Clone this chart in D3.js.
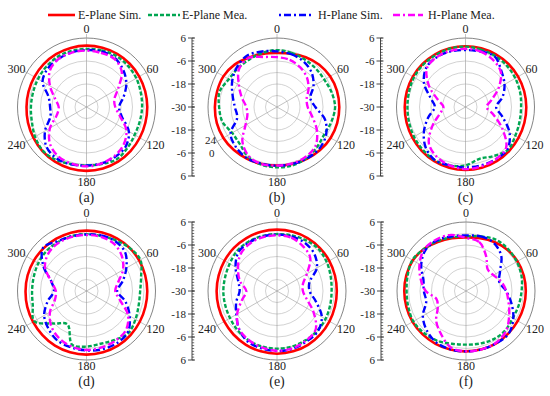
<!DOCTYPE html>
<html>
<head>
<meta charset="utf-8">
<script src="https://cdn.jsdelivr.net/npm/d3@7"></script>
<style>
  body { margin:0; background:#fff; }
</style>
</head>
<body>
<script>
// angles (deg, clockwise from top) shared by every series
var angles = [0,15,30,45,60,75,90,105,120,135,150,165,180,195,210,225,240,255,270,285,300,315,330,345];
var angleLabels = ["0","60","120","180","240","300"];
var radialTicks = [6,-6,-18,-30];
var gridLevels = [-24,-18,-12,-6,0];
var seriesNames = ["E-Plane Sim.","E-Plane Mea.","H-Plane Sim.","H-Plane Mea."];
var panelNames = ["(a)","(b)","(c)","(d)","(e)","(f)"];

// gain in dB, one value per angle
var eSimA = [2,2,2,1.9,1.8,1.7,1.7,1.8,2.1,2.5,2.9,3.2,3.3,3.2,2.9,2.5,2,1.6,1.3,1.3,1.4,1.6,1.8,1.9];
var eMeaA = [0.3,0.6,0.8,0.5,0,-0.7,-1,-1.2,-1,0.2,1.5,0.8,0.5,0.8,1.8,2.2,1,-0.5,-1,-1.1,-0.8,-0.3,0.2,0.3];
var hSimA = [-0.3,0,-0.5,-2.8,-6,-10,-13,-11,-4.5,-1,0,0.5,0.5,1,1,-0.5,-5,-10.5,-11,-9.5,-3.5,-1.5,-1,-0.5];
var hMeaA = [-0.6,-0.8,-1,-4,-11,-15,-15,-12,-6,-2.5,-0.6,0.5,1,0.5,-0.4,-3,-8,-14,-15.5,-13,-8,-3,-1,-0.6];

var eSimB = [-1.8,-1.2,0,1.2,2,2.4,2.5,2.5,2.3,1.8,1.2,0.8,0.6,0.8,1.2,1.8,2.3,2.5,2.4,2.3,2.2,1.3,-0.3,-1.3];
var eMeaB = [-0.3,-0.8,-1.3,-1.5,-1.5,-0.5,0.3,-0.6,-1.5,-0.5,0.8,1.5,1.5,1.2,0,-2.6,-3,-0.5,0.2,1,-1,-1.3,-1.3,-0.8];
var hSimB = [-1,-1.5,-2.5,-4.5,-8,-12,-10,-4,-0.5,1,1,0.8,0.6,0.6,1,0,-2,-8.5,-8,-6,-3,-0.5,1,0];
var hMeaB = [-4,-4.5,-6,-8,-11,-14,-14,-11,-6,-1.5,0,0.5,0.6,0.8,-0.5,-4.5,-11,-14,-14,-11,-7,-2,-0.5,-3];

var eSimC = [1.7,1.7,1.7,1.7,1.7,1.7,1.7,1.8,2,2.3,2.6,2.8,2.9,2.8,2.6,2.3,2,1.8,1.7,1.7,1.7,1.7,1.7,1.7];
var eMeaC = [1.5,1,0.8,0.5,0,-0.5,-1,-0.8,0,1.5,-0.5,-2,0.5,1.5,2,1.5,1,0.5,0.3,0.5,1,1.2,1.2,1.5];
var hSimC = [-0.3,0,0.5,-3.5,-6.5,-10,-14,-10,-3.5,1,1.5,1.5,1.5,1.5,2,-0.5,-5,-10,-14,-11,-5,-1,0,0];
var hMeaC = [0.3,0,-1.5,-4,-10,-16,-19,-15,-8,0,1.5,2,2.4,1.5,0,-3,-10,-16,-18.5,-15,-8,-1.5,0,0.3];

var eSimD = [1.5,1.6,1.7,1.8,1.8,1.7,1.7,1.8,2.1,2.5,2.9,3.1,3.2,3.1,2.9,2.5,2.2,2,1.8,1.8,1.7,1.6,1.5,1.5];
var eMeaD = [-0.3,-0.3,0.5,1.8,2.5,-0.5,-2,-1.8,-0.5,1,-0.5,-1.5,-1,-1,-10,-6,1.5,-1,-1.6,-1.5,-1,-0.5,-0.5,-0.3];
var hSimD = [-0.5,0,0,-1.5,-6,-10.5,-14,-9,-4,0.5,1.5,1.5,1,0.5,0,-2,-4.5,-9,-13,-11,-4,2,0,-0.5];
var hMeaD = [-0.8,-0.8,-1.5,-4,-8,-13,-15,-12,-5,-1,0,0.5,0.8,0,-1.5,-4,-8,-13,-14,-11,-5,-2,-1,-0.8];

var eSimE = [2,2,1.9,1.7,1.5,1.3,1.2,1.3,1.6,2,2.4,2.6,2.7,2.6,2.4,2.1,1.8,1.6,1.5,1.5,1.6,1.8,1.9,2];
var eMeaE = [-0.3,0,0.5,0.8,0,-1,-1.5,-1.3,-0.8,-0.5,-0.3,0,0.1,0,-0.3,-1,-1.7,-2,-2,-2,-1.5,-0.5,-0.3,-0.3];
var hSimE = [-0.6,-0.5,-1,-2.5,-6,-12.5,-13,-9,-3,0,0.5,1.2,1.3,1,0.5,-2,-5.5,-8,-10.5,-9,-5,-1.5,-0.8,-0.6];
var hMeaE = [-1,-1.2,-3,-5.5,-12,-16,-16.5,-14,-8,-1.5,0,1,1.2,0.5,-0.5,-2,-6,-11,-14,-10,-6.5,-3,-1.5,-1];

var eSimF = [-2,-1.5,-0.5,0.5,1,1.2,1.2,1.2,1.2,1.3,1.5,1.5,1.5,1.6,1.8,2,2.2,2.2,2.2,2.2,2,1,-0.5,-1.5];
var eMeaF = [-1.5,-0.5,1,1,0.6,0,-1,-1.5,-1.8,-1,-1,-1.6,-2,-1.5,0,1,1.7,1.2,1,1.5,2.3,1,0,-1];
var hSimF = [-1,-0.5,-1,-4,-9.5,-12,-9,-5.5,-1.5,1.5,1.5,1.5,1.5,1.5,1,-1,-4,-8.5,-8,-7,-3,0,0.5,-0.5];
var hMeaF = [-2.3,-3.5,-9,-14,-13.5,-11,-9,-7,-4,-0.5,1.2,1.5,1.5,0.5,-4,-8,-13,-14,-9,-5.5,-2,0.8,1,0.3];

var W = 550, H = 396;
var R = 69; // outer ring radius in px (6 dB)
var FONT = "'Liberation Serif','DejaVu Serif','Times New Roman',serif";
var colors = ["#ff0000","#00a651","#0000ff","#ff00ff"];
var dashes = [null,"4,2","7,3,2,3","7,3,7,3,2,3"];

var svg = d3.select("body").append("svg").attr("width",W).attr("height",H)
            .style("font-family",FONT);

var r = d3.scaleLinear().domain([-30,6]).range([0,R]);

var panels = [
  {cx:86.5, cy:107, axis:false, data:[eSimA,eMeaA,hSimA,hMeaA]},
  {cx:277,  cy:107, axis:true,  data:[eSimB,eMeaB,hSimB,hMeaB], split240:true},
  {cx:465.5,cy:107, axis:true,  data:[eSimC,eMeaC,hSimC,hMeaC]},
  {cx:86.5, cy:291, axis:false, data:[eSimD,eMeaD,hSimD,hMeaD]},
  {cx:277,  cy:291, axis:true,  data:[eSimE,eMeaE,hSimE,hMeaE]},
  {cx:466,  cy:291, axis:true,  data:[eSimF,eMeaF,hSimF,hMeaF]}
];

var line = d3.lineRadial()
  .angle(function(d){ return d.a*Math.PI/180; })
  .radius(function(d){ return r(d.v); })
  .curve(d3.curveCatmullRomClosed.alpha(0.5));

function label(sel,x,y,anchor,size,txt){
  return sel.append("text").attr("x",x).attr("y",y).attr("text-anchor",anchor)
    .style("font-family",FONT).style("font-size",size+"px").style("fill","#222").text(txt);
}

panels.forEach(function(p,i){
  var g = svg.append("g").attr("transform","translate("+p.cx+","+p.cy+")");

  // grid rings
  g.selectAll("circle.grid").data(gridLevels).enter().append("circle")
   .attr("r",function(d){ return r(d); })
   .attr("fill","none").attr("stroke","#b4b4b4").attr("stroke-width",0.6);
  g.append("circle").attr("r",R).attr("fill","none").attr("stroke","#777").attr("stroke-width",0.9);

  // spokes every 60 deg, with a short tick outside the ring
  [0,60,120,180,240,300].forEach(function(a){
    var t = a*Math.PI/180;
    g.append("line").attr("x1",0).attr("y1",0)
     .attr("x2",(R+4)*Math.sin(t)).attr("y2",-(R+4)*Math.cos(t))
     .attr("stroke","#999").attr("stroke-width",0.6);
  });

  // angle labels
  var pos = {"0":[0,-74,"middle"],"180":[0,79,"middle"],"60":[60,-34,"start"],"120":[60,42,"start"],
             "300":[-61,-34,"end"],"240":[-61,42,"end"]};
  angleLabels.forEach(function(lab){
    if (p.split240 && lab==="240") return;
    var q = pos[lab];
    label(g,q[0],q[1],q[2],12,lab);
  });
  if (p.split240) {
    label(g,-61,37,"end",11,"24");
    label(g,-68,49.5,"start",11,"0");
  }

  // series
  p.data.forEach(function(vals,k){
    var pts = angles.map(function(a,j){ return {a:a, v:vals[j]}; });
    g.append("path").attr("d",line(pts))
     .attr("fill","none").attr("stroke",colors[k]).attr("stroke-width",k===0?2.6:2.4)
     .attr("stroke-dasharray",dashes[k]);
  });

  // panel label
  label(g,0,95,"middle",14,panelNames[i]);

  // linear radial axis on the left
  if (p.axis) {
    var ax = svg.append("g").attr("transform","translate("+(p.cx-85)+","+p.cy+")");
    var yTop = d3.scaleLinear().domain([6,-30]).range([-R,0]);
    var yBot = d3.scaleLinear().domain([-30,6]).range([0,R]);
    ax.append("line").attr("y1",-R).attr("y2",R).attr("stroke","#333").attr("stroke-width",0.9);
    for (var v=6; v>=-30; v-=1.5) {
      [yTop(v), yBot(v)].forEach(function(y){
        ax.append("line").attr("x1",0).attr("x2",2.2).attr("y1",y).attr("y2",y)
          .attr("stroke","#333").attr("stroke-width",0.7);
      });
    }
    radialTicks.forEach(function(t){
      var ys = t===-30 ? [0] : [yTop(t), yBot(t)];
      ys.forEach(function(y){
        ax.append("line").attr("x1",-4).attr("x2",3).attr("y1",y).attr("y2",y)
          .attr("stroke","#333").attr("stroke-width",0.9);
        label(ax,-6,y+4,"end",11,t);
      });
    });
  }
});

// legend
var legX = [48,148,278,393], legLen = [27,32,36,30], legTextX = [78,182,318,428];
var legOffset = [0,0,9,10];
seriesNames.forEach(function(name,k){
  svg.append("line").attr("x1",legX[k]).attr("x2",legX[k]+legLen[k])
     .attr("y1",15).attr("y2",15)
     .attr("stroke",colors[k]).attr("stroke-width",2.6)
     .attr("stroke-dasharray",dashes[k]).attr("stroke-dashoffset",legOffset[k]);
  label(svg,legTextX[k],19,"start",12,name);
});
</script>
</body>
</html>
